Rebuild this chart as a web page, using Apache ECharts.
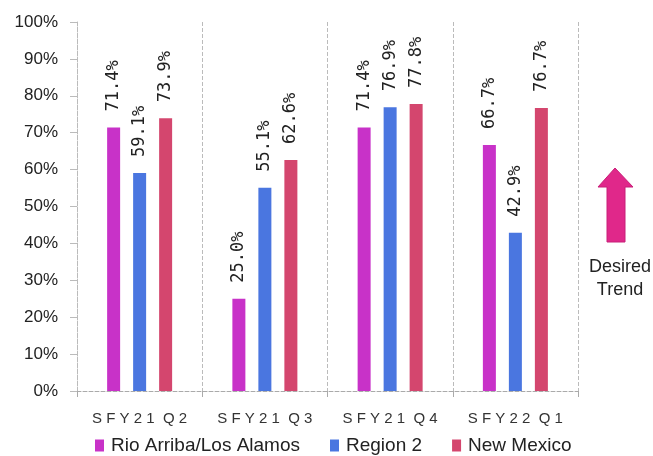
<!DOCTYPE html>
<html><head><meta charset="utf-8">
<script src="https://cdn.jsdelivr.net/npm/echarts@6/dist/echarts.min.js"></script>
<style>html,body{margin:0;padding:0;background:#fff}#c{width:653px;height:456px}</style>
</head><body><div id="c"></div>
<script>
const categories = ['S F Y 2 1  Q 2', 'S F Y 2 1  Q 3', 'S F Y 2 1  Q 4', 'S F Y 2 2  Q 1'];
const seriesNames = ['Rio Arriba/Los Alamos', 'Region 2', 'New Mexico'];
const rioArriba = [71.4, 25.0, 71.4, 66.7];
const region2 = [59.1, 55.1, 76.9, 42.9];
const newMexico = [73.9, 62.6, 77.8, 76.7];
const colors = ['#C832C8', '#4A76E0', '#D4466E'];

const chart = echarts.init(document.getElementById('c'));
const font = 'Liberation Sans, Arial, sans-serif';
function mk(name, data, color) {
  return {
    name, type: 'bar', data, barWidth: 13, barGap: '100%',
    itemStyle: { color },
    label: {
      show: true, position: 'top', rotate: 90, align: 'left', verticalAlign: 'middle',
      distance: 16, color: '#222', fontSize: 17, fontFamily: 'DejaVu Sans Mono, monospace',
      formatter: p => p.value.toFixed(1) + '%'
    }
  };
}
chart.setOption({
  animation: false,
  color: colors,
  grid: { left: 77, right: 75, top: 22, bottom: 65 },
  legend: {
    top: 431, left: 90, itemWidth: 9, itemHeight: 12, itemGap: 30,
    icon: 'rect',
    textStyle: { fontSize: 19, color: '#222', fontFamily: font, padding: [0, 0, 0, 2] },
    data: seriesNames
  },
  xAxis: {
    type: 'category', data: categories,
    axisLine: { lineStyle: { color: '#aaa', type: 'dashed' } },
    axisTick: { show: true, length: 6, lineStyle: { color: '#aaa' } },
    splitLine: { show: true, lineStyle: { color: '#bbb', type: 'dashed' } },
    axisLabel: { fontSize: 15, color: '#333', margin: 20, fontFamily: font }
  },
  yAxis: {
    type: 'value', min: 0, max: 100, interval: 10,
    axisLine: { show: true, lineStyle: { color: '#bbb', type: 'dashed' } },
    axisTick: { show: true, length: 7, lineStyle: { color: '#bbb' } },
    splitLine: { show: false },
    axisLabel: { fontSize: 17, color: '#222', margin: 19, fontFamily: font, formatter: v => v + '%' }
  },
  graphic: [
    { type: 'polygon', shape: { points: [[615,168],[633,187],[625,187],[625,242],[607,242],[607,187],[598,187]] },
      style: { fill: '#E0288A', stroke: '#C81E78', lineWidth: 1 } },
    { type: 'text', x: 620, y: 267, style: { text: 'Desired', fontSize: 18, fill: '#222', fontFamily: font, align: 'center', verticalAlign: 'middle' } },
    { type: 'text', x: 620, y: 290, style: { text: 'Trend', fontSize: 18, fill: '#222', fontFamily: font, align: 'center', verticalAlign: 'middle' } }
  ],
  series: [mk(seriesNames[0], rioArriba, colors[0]), mk(seriesNames[1], region2, colors[1]), mk(seriesNames[2], newMexico, colors[2])]
});
</script></body></html>
